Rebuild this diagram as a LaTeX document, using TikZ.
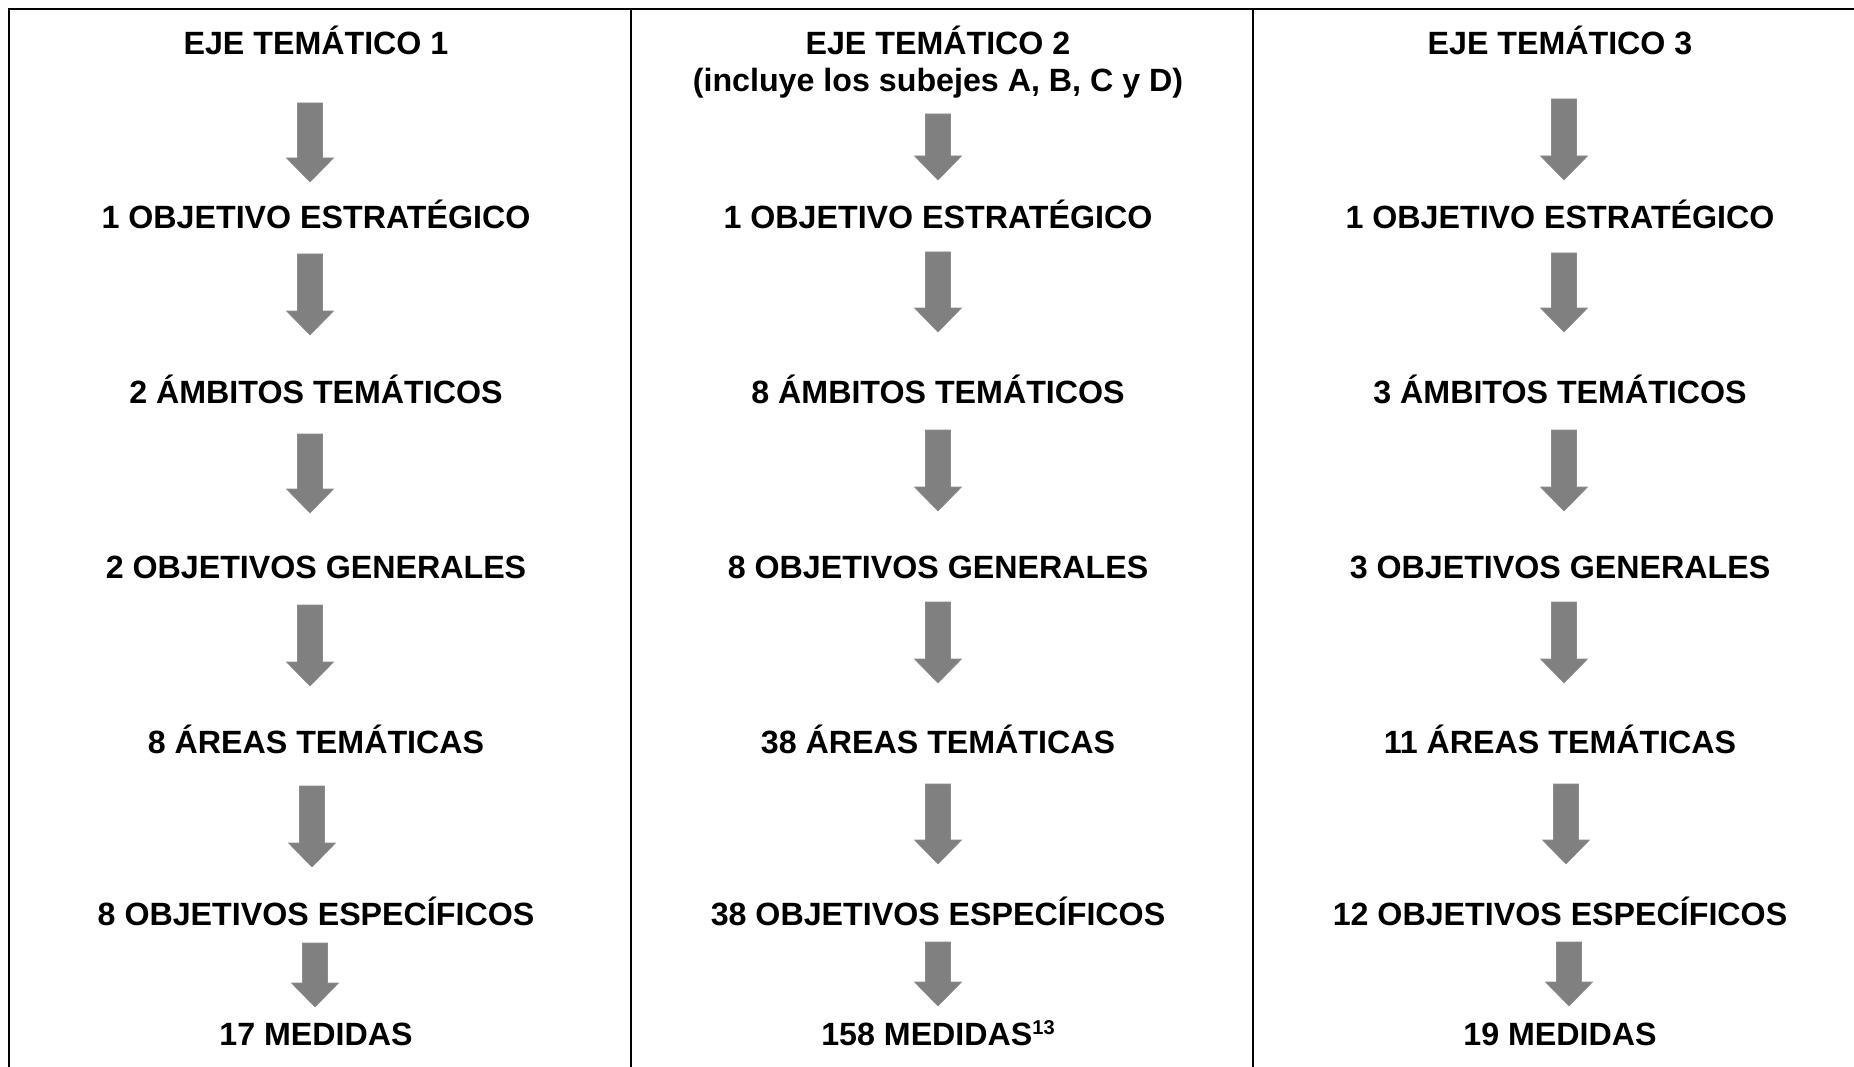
\documentclass[tikz,border=0pt]{standalone}
\usepackage{fontspec}
\setmainfont{Liberation Sans}
\usetikzlibrary{calc}
\begin{document}
\begin{tikzpicture}[x=1pt,y=-1pt,
  lbl/.style={anchor=base,inner sep=0pt,font=\fontsize{32.2}{34}\selectfont\bfseries,align=center},
  rule/.style={line width=2.6pt,black},
  arrowfill/.style={fill=black!50,draw=black!45,line width=0.6pt}]
\useasboundingbox (0,0) rectangle (1854,1067);
\newcommand\barrow[4]{%
  \coordinate (#1s) at (#2,#3);
  \coordinate (#1e) at (#2,#4);
  \filldraw[arrowfill] ($(#1s)+(-12.5,0)$) -- ($(#1s)+(12.5,0)$) -- ($(#1e)+(12.5,-24)$) -- ($(#1e)+(23.5,-24)$) -- (#1e) -- ($(#1e)+(-23.5,-24)$) -- ($(#1e)+(-12.5,-24)$) -- cycle;}
% table rules
\draw[rule] (9,1080) -- (9,9) -- (1880,9);
\draw[rule] (631,9) -- (631,1080);
\draw[rule] (1253,9) -- (1253,1080);
% column 1
\node[lbl] (h1) at (316,54.5) {EJE TEMÁTICO 1};
\node[lbl] (a1) at (316,229) {1 OBJETIVO ESTRATÉGICO};
\node[lbl] (b1) at (316,403) {2 ÁMBITOS TEMÁTICOS};
\node[lbl] (c1) at (316,578) {2 OBJETIVOS GENERALES};
\node[lbl] (d1) at (316,753) {8 ÁREAS TEMÁTICAS};
\node[lbl] (e1) at (316,925.5) {8 OBJETIVOS ESPECÍFICOS};
\node[lbl] (f1) at (316,1045) {17 MEDIDAS};
% column 2
\node[lbl] (h2) at (938,54.5) {EJE TEMÁTICO 2};
\node[lbl] (h2b) at (938,92) {(incluye los subejes A, B, C y D)};
\node[lbl] (a2) at (938,229) {1 OBJETIVO ESTRATÉGICO};
\node[lbl] (b2) at (938,403) {8 ÁMBITOS TEMÁTICOS};
\node[lbl] (c2) at (938,578) {8 OBJETIVOS GENERALES};
\node[lbl] (d2) at (938,753) {38 ÁREAS TEMÁTICAS};
\node[lbl] (e2) at (938,925.5) {38 OBJETIVOS ESPECÍFICOS};
\node[lbl] (f2) at (938,1045) {158 MEDIDAS\raisebox{11pt}{\fontsize{20}{21}\selectfont 13}};
% column 3
\node[lbl] (h3) at (1560,54.5) {EJE TEMÁTICO 3};
\node[lbl] (a3) at (1560,229) {1 OBJETIVO ESTRATÉGICO};
\node[lbl] (b3) at (1560,403) {3 ÁMBITOS TEMÁTICOS};
\node[lbl] (c3) at (1560,578) {3 OBJETIVOS GENERALES};
\node[lbl] (d3) at (1560,753) {11 ÁREAS TEMÁTICAS};
\node[lbl] (e3) at (1560,925.5) {12 OBJETIVOS ESPECÍFICOS};
\node[lbl] (f3) at (1560,1045) {19 MEDIDAS};
% arrows column 1
\barrow{p11}{310}{103}{182}
\barrow{p12}{310}{254}{335}
\barrow{p13}{310}{434}{513}
\barrow{p14}{310}{605}{686}
\barrow{p15}{312}{786}{867}
\barrow{p16}{315}{943}{1007}
% arrows column 2
\barrow{p21}{938}{114}{180}
\barrow{p22}{938}{252}{332}
\barrow{p23}{938}{430}{511}
\barrow{p24}{938}{602}{683}
\barrow{p25}{938}{784}{864}
\barrow{p26}{938}{942}{1006}
% arrows column 3
\barrow{p31}{1564}{99}{180}
\barrow{p32}{1564}{253}{332}
\barrow{p33}{1564}{430}{511}
\barrow{p34}{1564}{602}{683}
\barrow{p35}{1566}{784}{864}
\barrow{p36}{1569}{942}{1006}
\end{tikzpicture}
\end{document}
